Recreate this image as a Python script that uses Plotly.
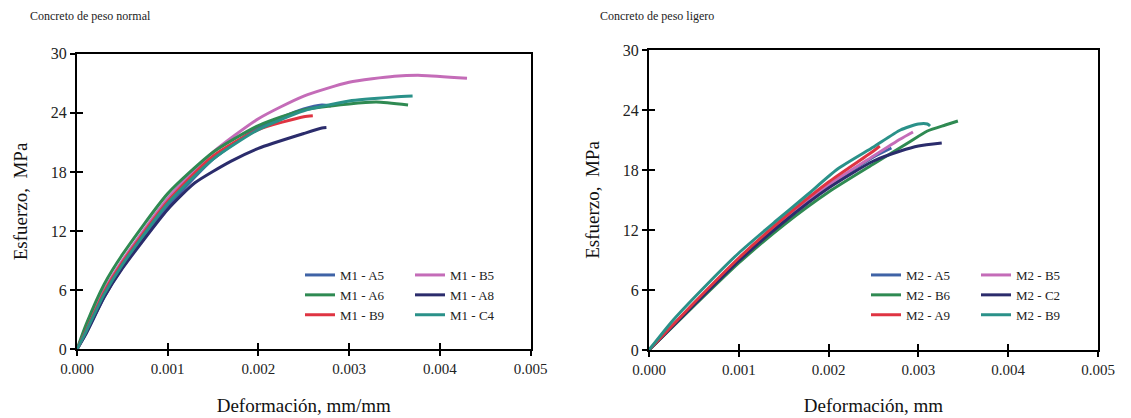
import plotly.graph_objects as go

# ---------------- data ----------------
# Left panel: Concreto de peso normal
m1_names = ["M1 - A5", "M1 - B5", "M1 - A6", "M1 - A8", "M1 - B9", "M1 - C4"]
m1_colors = ["#3f63a6", "#c46cb8", "#2f8a52", "#2b2c6c", "#df3442", "#2a9189"]
m1_a5_x = [0, 0.0001, 0.0003, 0.0005, 0.001, 0.0015, 0.002, 0.0025, 0.0027, 0.0028]
m1_a5_y = [0, 1.6, 5.3, 8.3, 14.5, 19.3, 22.5, 24.4, 24.8, 24.7]
m1_b5_x = [0, 0.0001, 0.0003, 0.0005, 0.001, 0.0015, 0.002, 0.0025, 0.003, 0.0035, 0.0038, 0.0043]
m1_b5_y = [0, 2.0, 6.0, 9.0, 15.3, 20.0, 23.4, 25.7, 27.1, 27.7, 27.8, 27.5]
m1_a6_x = [0, 0.0001, 0.0003, 0.0005, 0.001, 0.0015, 0.002, 0.0025, 0.003, 0.0033, 0.00365]
m1_a6_y = [0, 2.5, 6.6, 9.6, 15.8, 20.0, 22.7, 24.3, 24.9, 25.1, 24.8]
m1_a8_x = [0, 0.0001, 0.0003, 0.0005, 0.001, 0.0013, 0.0017, 0.002, 0.0025, 0.0027, 0.00275]
m1_a8_y = [0, 1.6, 5.3, 8.2, 14.2, 16.9, 19.1, 20.4, 21.9, 22.45, 22.5]
m1_b9_x = [0, 0.0001, 0.0003, 0.0005, 0.001, 0.0015, 0.002, 0.0025, 0.0026]
m1_b9_y = [0, 1.9, 5.8, 8.8, 15.0, 19.6, 22.3, 23.6, 23.7]
m1_c4_x = [0, 0.0001, 0.0003, 0.0005, 0.001, 0.0015, 0.002, 0.0025, 0.003, 0.0035, 0.0037]
m1_c4_y = [0, 1.8, 5.6, 8.6, 14.8, 19.3, 22.3, 24.2, 25.2, 25.6, 25.7]

# Right panel: Concreto de peso ligero
m2_names = ["M2 - A5", "M2 - B5", "M2 - B6", "M2 - C2", "M2 - A9", "M2 - B9"]
m2_colors = ["#3f63a6", "#c46cb8", "#2f8a52", "#2b2c6c", "#df3442", "#2a9189"]
m2_a5_x = [0, 0.0005, 0.001, 0.0015, 0.002, 0.0025, 0.0027]
m2_a5_y = [0, 4.6, 9.0, 12.9, 16.4, 19.3, 20.2]
m2_b5_x = [0, 0.0005, 0.001, 0.0015, 0.002, 0.0025, 0.0028, 0.00294]
m2_b5_y = [0, 4.6, 9.1, 13.0, 16.5, 19.4, 21.1, 21.8]
m2_b6_x = [0, 0.0005, 0.001, 0.0015, 0.002, 0.0025, 0.0027, 0.0029, 0.0031, 0.0033, 0.00344]
m2_b6_y = [0, 4.4, 8.7, 12.5, 15.8, 18.6, 19.7, 20.8, 21.9, 22.5, 22.9]
m2_c2_x = [0, 0.0005, 0.001, 0.0015, 0.002, 0.0025, 0.0028, 0.003, 0.00326]
m2_c2_y = [0, 4.5, 8.9, 12.8, 16.2, 18.9, 19.9, 20.4, 20.7]
m2_a9_x = [0, 0.0005, 0.001, 0.0015, 0.002, 0.0025, 0.00257]
m2_a9_y = [0, 4.7, 9.2, 13.2, 16.8, 19.9, 20.4]
m2_b9_x = [0, 0.00027, 0.00064, 0.001, 0.0014, 0.00176, 0.0021, 0.0025, 0.0028, 0.003, 0.0031, 0.00313]
m2_b9_y = [0, 3.0, 6.5, 9.7, 12.8, 15.5, 18.1, 20.3, 22.0, 22.6, 22.6, 22.4]

x_ticks = [0, 0.001, 0.002, 0.003, 0.004, 0.005]
x_ticktext = ["0.000", "0.001", "0.002", "0.003", "0.004", "0.005"]
y_ticks = [0, 6, 12, 18, 24, 30]

m1_series = [(m1_a5_x, m1_a5_y), (m1_b5_x, m1_b5_y), (m1_a6_x, m1_a6_y),
             (m1_a8_x, m1_a8_y), (m1_b9_x, m1_b9_y), (m1_c4_x, m1_c4_y)]
m2_series = [(m2_a5_x, m2_a5_y), (m2_b5_x, m2_b5_y), (m2_b6_x, m2_b6_y),
             (m2_c2_x, m2_c2_y), (m2_a9_x, m2_a9_y), (m2_b9_x, m2_b9_y)]

FONT = "Liberation Serif, Times New Roman, serif"

fig = go.Figure()
# legend columns: items 0,2,4 -> first column ; items 1,3,5 -> second column
for i, ((xs, ys), name, col) in enumerate(zip(m1_series, m1_names, m1_colors)):
    fig.add_trace(go.Scatter(x=xs, y=ys, name=name, mode="lines",
                             line=dict(color=col, width=3, shape="spline", smoothing=0.6),
                             xaxis="x", yaxis="y", legend="legend" if i % 2 == 0 else "legend2"))
for i, ((xs, ys), name, col) in enumerate(zip(m2_series, m2_names, m2_colors)):
    fig.add_trace(go.Scatter(x=xs, y=ys, name=name, mode="lines",
                             line=dict(color=col, width=3, shape="spline", smoothing=0.6),
                             xaxis="x2", yaxis="y2", legend="legend3" if i % 2 == 0 else "legend4"))

L_dom_x = [77 / 1131, 530.5 / 1131]
R_dom_x = [649 / 1131, 1098 / 1131]
L_dom_y = [(418 - 349.3) / 418, (418 - 53.7) / 418]
R_dom_y = [(418 - 350) / 418, (418 - 50) / 418]

def xax(dom, anchor, title):
    return dict(domain=dom, anchor=anchor, range=[0, 0.005], tickvals=x_ticks, ticktext=x_ticktext,
                ticks="outside", ticklen=5, tickwidth=1.5, tickcolor="black",
                showline=True, linecolor="black", linewidth=2, mirror=True,
                showgrid=False, zeroline=False, automargin=False,
                tickfont=dict(family=FONT, size=15, color="#222"),
                title=dict(text=title, font=dict(family=FONT, size=19, color="#111"), standoff=22))

def yax(dom, anchor):
    return dict(domain=dom, anchor=anchor, range=[0, 30], tickvals=y_ticks,
                ticks="outside", ticklen=5, tickwidth=1.5, tickcolor="black",
                showline=True, linecolor="black", linewidth=2, mirror=True,
                showgrid=False, zeroline=False, automargin=False,
                tickfont=dict(family=FONT, size=16, color="#222"),
                title=dict(text="Esfuerzo,  MPa", font=dict(family=FONT, size=19, color="#111"), standoff=18))

def inner_x(dom, over, anchor):
    return dict(domain=dom, overlaying=over, anchor=anchor, range=[0, 0.005], tickvals=x_ticks,
                ticks="inside", ticklen=6, tickwidth=1.5, tickcolor="black", automargin=False,
                showticklabels=False, showline=False, showgrid=False, zeroline=False)

def inner_y(dom, over, anchor):
    return dict(domain=dom, overlaying=over, anchor=anchor, range=[0, 30], tickvals=y_ticks,
                ticks="inside", ticklen=6, tickwidth=1.5, tickcolor="black", automargin=False,
                showticklabels=False, showline=False, showgrid=False, zeroline=False)

# invisible helpers so overlay axes (inner tick halves) are drawn
fig.add_trace(go.Scatter(x=[0], y=[0], xaxis="x3", yaxis="y", showlegend=False,
                         mode="markers", marker=dict(opacity=0), hoverinfo="skip"))
fig.add_trace(go.Scatter(x=[0], y=[0], xaxis="x", yaxis="y3", showlegend=False,
                         mode="markers", marker=dict(opacity=0), hoverinfo="skip"))
fig.add_trace(go.Scatter(x=[0], y=[0], xaxis="x4", yaxis="y2", showlegend=False,
                         mode="markers", marker=dict(opacity=0), hoverinfo="skip"))
fig.add_trace(go.Scatter(x=[0], y=[0], xaxis="x2", yaxis="y4", showlegend=False,
                         mode="markers", marker=dict(opacity=0), hoverinfo="skip"))

leg_common = dict(orientation="v", itemwidth=30, bgcolor="rgba(0,0,0,0)",
                  yanchor="top", xanchor="left", xref="paper", yref="paper",
                  font=dict(family=FONT, size=13, color="#222"), tracegroupgap=0)
LEG_TOP = (418 - 260) / 418

fig.update_layout(
    width=1131, height=418,
    margin=dict(l=0, r=0, t=0, b=0, autoexpand=False),
    paper_bgcolor="white", plot_bgcolor="white",
    xaxis=xax(L_dom_x, "y", "Deformación, mm/mm"),
    yaxis=yax(L_dom_y, "x"),
    xaxis2=xax(R_dom_x, "y2", "Deformación, mm"),
    yaxis2=yax(R_dom_y, "x2"),
    xaxis3=inner_x(L_dom_x, "x", "y"),
    yaxis3=inner_y(L_dom_y, "y", "x"),
    xaxis4=inner_x(R_dom_x, "x2", "y2"),
    yaxis4=inner_y(R_dom_y, "y2", "x2"),
    legend=dict(x=300 / 1131, y=LEG_TOP, **leg_common),
    legend2=dict(x=410 / 1131, y=LEG_TOP, **leg_common),
    legend3=dict(x=866 / 1131, y=LEG_TOP, **leg_common),
    legend4=dict(x=976 / 1131, y=LEG_TOP, **leg_common),
    annotations=[
        dict(text="Concreto de peso normal", x=28 / 1131, y=(418 - 16) / 418, xref="paper", yref="paper",
             xanchor="left", yanchor="middle", showarrow=False,
             font=dict(family=FONT, size=12, color="#222")),
        dict(text="Concreto de peso ligero", x=598 / 1131, y=(418 - 16) / 418, xref="paper", yref="paper",
             xanchor="left", yanchor="middle", showarrow=False,
             font=dict(family=FONT, size=12, color="#222")),
    ],
)

fig.write_html("out.html")
